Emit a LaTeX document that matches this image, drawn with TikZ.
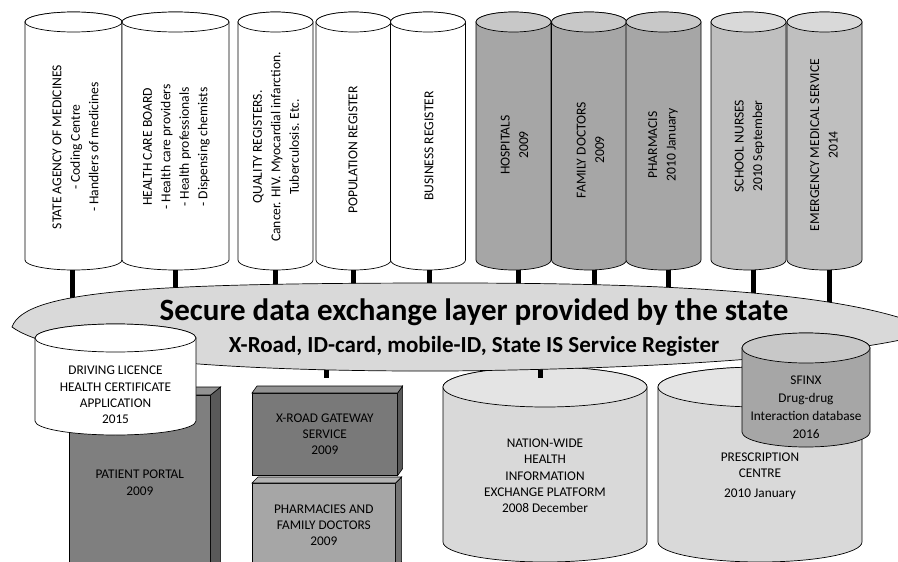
\documentclass[tikz,border=0pt]{standalone}
\usepackage{fontspec}
\setmainfont{Carlito}
\usetikzlibrary{calc}

\definecolor{bandgray}{HTML}{D9D9D9}
\definecolor{darkbody}{HTML}{A6A6A6}
\definecolor{darkend}{HTML}{C8C8C8}
\definecolor{lightbody}{HTML}{BFBFBF}
\definecolor{lightend}{HTML}{D9D9D9}
\definecolor{storebody}{HTML}{D9D9D9}
\definecolor{storeend}{HTML}{E4E4E4}
\definecolor{slabdark}{HTML}{7F7F7F}
\definecolor{slabmid}{HTML}{A6A6A6}

% cylinder round a body node: name, end radius, body colour, end colour
\newcommand\drawcan[4]{%
  \draw[line width=0.7pt, fill=#3] let \p1=($(#1.east)-(#1.west)$) in
    (#1.north west) -- (#1.south west)
    arc[start angle=180, end angle=360, x radius=0.5*\x1, y radius=#2]
    -- (#1.north east)
    arc[start angle=0, end angle=180, x radius=0.5*\x1, y radius=#2] -- cycle;
  \draw[line width=0.7pt, fill=#4] let \p1=($(#1.east)-(#1.west)$) in
    (#1.north) ellipse[x radius=0.5*\x1, y radius=#2];
}

\tikzset{
  canbody/.style={rectangle, inner sep=0pt, outer sep=0pt},
  tower/.style={canbody, minimum width=75pt, minimum height=238pt},
  uptext/.style={rotate=90, align=center, inner sep=0pt, font=\fontsize{13.6}{18.5}\selectfont},
  storetext/.style={align=center, inner sep=0pt, font=\fontsize{13.3}{16.3}\selectfont},
  slab/.style={rectangle, draw, line width=0.6pt, align=center, anchor=north west,
    font=\fontsize{13.3}{16.3}\selectfont},
  link/.style={line width=5pt},
  band/.style={draw, fill=bandgray, line width=0.7pt},
}

\begin{document}
\begin{tikzpicture}[x=1pt,y=-1pt]
\clip (0,0) rectangle (898,562);

% registers and services on top
\node[tower, minimum width=97pt] (sam) at (73.5,141) {};
\node[tower, minimum width=107pt] (hcb) at (175.5,141) {};
\node[tower] (qr) at (275.5,141) {};
\node[tower] (pop) at (353.5,141) {};
\node[tower] (bus) at (428,141) {};
\node[tower] (hosp) at (513.5,141) {};
\node[tower] (fam) at (589,141) {};
\node[tower] (pha) at (663.5,141) {};
\node[tower] (sch) at (748.5,141) {};
\node[tower] (ems) at (824.5,141) {};

\coordinate (layer) at (470,327);
\foreach \t/\dx in {sam/-1,hcb/0,qr/0,pop/0,bus/1,hosp/5,fam/5,pha/5,sch/5,ems/5}
  \draw[link] ([xshift=\dx pt]\t.south) -- ([xshift=\dx pt]\t.south |- layer);

\foreach \t/\b/\e in {sam/white/white, hcb/white/white, qr/white/white, pop/white/white,
    bus/white/white, hosp/darkbody/darkend, fam/darkbody/darkend, pha/darkbody/darkend,
    sch/lightbody/lightend, ems/lightbody/lightend}
  \drawcan{\t}{10pt}{\b}{\e};

\node[uptext] (samtext) at (75.5,147) {STATE AGENCY OF MEDICINES\\- Coding Centre\\- Handlers of medicines};
\node[uptext] (hcbtext) at (176.5,147) {HEALTH CARE BOARD\\- Health care providers\\- Health professionals\\- Dispensing chemists};
\node[uptext] (qrtext) at (276,147) {QUALITY REGISTERS.\\Cancer. HIV. Myocardial infarction.\\Tuberculosis. Etc.};
\node[uptext] (poptext) at (353,150) {POPULATION REGISTER};
\node[uptext] (bustext) at (429,146) {BUSINESS REGISTER};
\node[uptext] (hosptext) at (514.5,145) {HOSPITALS\\2009};
\node[uptext] (famtext) at (590.5,150) {FAMILY DOCTORS\\2009};
\node[uptext] (phatext) at (663,145) {PHARMACIS\\2010 January};
\node[uptext] (schtext) at (749.5,146) {SCHOOL NURSES\\2010 September};
\node[uptext] (emstext) at (824,145) {EMERGENCY MEDICAL SERVICE\\2014};

% services below
\node[slab, fill=slabdark, minimum width=141pt, minimum height=175pt] (portal) at (69,395) {PATIENT PORTAL\\2009};
\node[slab, fill=slabdark!95!black, minimum width=145pt, minimum height=82pt] (gw) at (252,393) {X-ROAD GATEWAY\\SERVICE\\2009};
\node[slab, fill=slabmid, minimum width=143pt, minimum height=84pt] (pf) at (252,483) {PHARMACIES AND\\FAMILY DOCTORS\\2009};
\foreach \s/\dx/\dy/\c in {portal/10/8/slabdark, gw/5/7/slabdark, pf/6/6/slabmid} {
  \draw[line width=0.6pt, fill=\c!70!black] (\s.north east) -- ++(\dx,-\dy) -- ([shift={(\dx,-\dy)}]\s.south east) -- (\s.south east) -- cycle;
  \draw[line width=0.6pt, fill=\c!85!white] (\s.north west) -- ++(\dx,-\dy) -- ([shift={(\dx,-\dy)}]\s.north east) -- (\s.north east) -- cycle;
}

\node[canbody, minimum width=204pt, minimum height=155pt] (nat) at (545,464.5) {};
\node[canbody, minimum width=204pt, minimum height=155pt] (pc) at (760,464.5) {};
\drawcan{nat}{20pt}{storebody}{storeend}
\drawcan{pc}{20pt}{storebody}{storeend}
\node[storetext] (nattext) at (545,476) {NATION-WIDE\\HEALTH\\INFORMATION\\EXCHANGE PLATFORM\\2008 December};
\node[storetext] (pctext) at (760,476) {PRESCRIPTION\\CENTRE\\[3pt]2010 January};

\coordinate (gwlink) at (326,378);
\coordinate (natlink) at (540,378);
\draw[link] (gwlink |- layer) -- (gwlink);
\draw[link] (natlink |- layer) -- (natlink);

% the exchange layer
\draw[band] (12,327) .. controls (25,290) and (150,283) .. (450,283)
  .. controls (700,283) and (860,295) .. (935,331)
  .. controls (880,350) and (720,368) .. (450,371)
  .. controls (200,372) and (50,355) .. cycle;
\node[font=\fontsize{31}{34}\selectfont\bfseries] (head) at (474,312) {Secure data exchange layer provided by the state};
\node[font=\fontsize{23}{26}\selectfont\bfseries] (sub) at (474,346.5) {X-Road, ID-card, mobile-ID, State IS Service Register};

\node[canbody, minimum width=161pt, minimum height=83pt] (dl) at (115.5,379.5) {};
\drawcan{dl}{14pt}{white}{white}
\node[storetext] (dltext) at (115.5,395) {DRIVING LICENCE\\HEALTH CERTIFICATE\\APPLICATION\\2015};
\node[canbody, minimum width=128pt, minimum height=84pt] (sfx) at (806,390) {};
\drawcan{sfx}{15pt}{darkbody}{darkend}
\node[storetext, font=\fontsize{13.3}{18}\selectfont] (sfxtext) at (806,407) {SFINX\\Drug-drug\\Interaction database\\2016};
\end{tikzpicture}
\end{document}
